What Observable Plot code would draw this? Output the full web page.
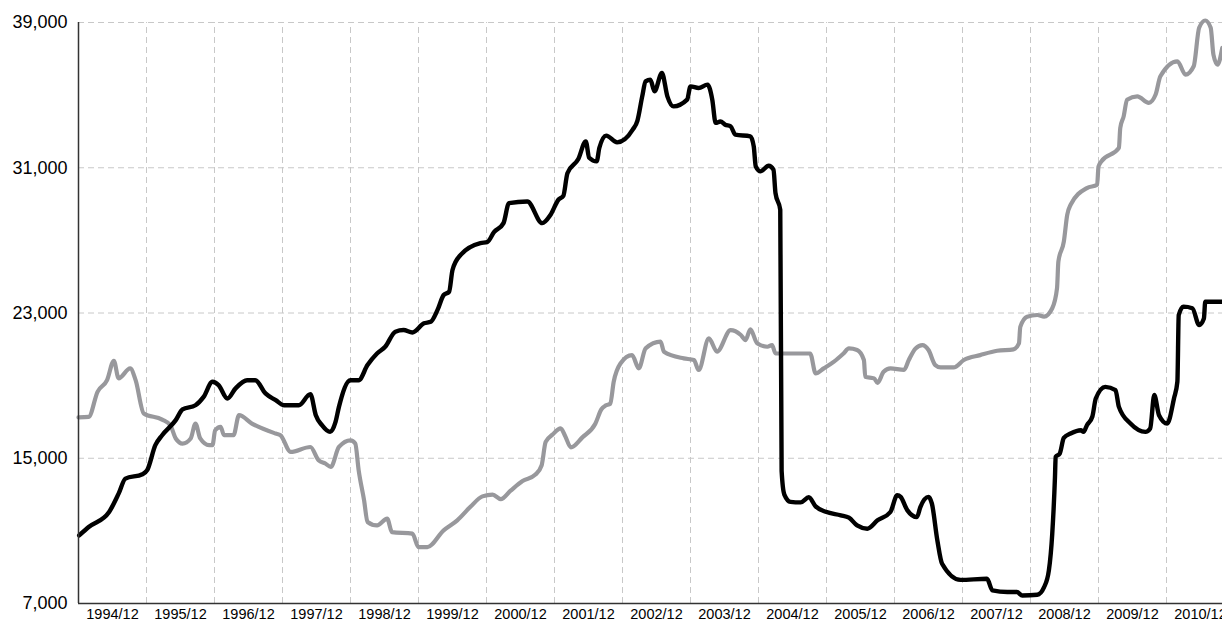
<!DOCTYPE html>
<html>
<head>
<meta charset="utf-8">
<script src="https://cdn.jsdelivr.net/npm/d3@7"></script>
<script src="https://cdn.jsdelivr.net/npm/@observablehq/plot@0.6"></script>
<style>
  html, body { margin: 0; padding: 0; background: #fff; }
  #chart { width: 1222px; height: 623px; overflow: hidden; }
</style>
</head>
<body>
<div id="chart"></div>
<script>
// Tick labels
const xTickLabels = ["1994/12","1995/12","1996/12","1997/12","1998/12","1999/12","2000/12","2001/12","2002/12","2003/12","2004/12","2005/12","2006/12","2007/12","2008/12","2009/12","2010/12"];
const yTicks = [7000, 15000, 23000, 31000, 39000];

// Series: [decimal year, value]
const blackSeries = [
  [1994.51,10750],[1994.65,11210],[1994.95,12040],[1995.09,13050],[1995.19,13880],[1995.44,14120],
  [1995.51,14340],[1995.63,15720],[1995.73,16270],[1995.93,17100],[1996.03,17690],[1996.22,17920],
  [1996.34,18380],[1996.47,19210],[1996.56,19030],[1996.69,18290],[1996.81,18850],[1996.98,19300],
  [1997.10,19300],[1997.25,18570],[1997.40,18200],[1997.52,17920],[1997.74,17920],[1997.91,18530],
  [1997.99,17370],[1998.08,16820],[1998.20,16450],[1998.28,17000],[1998.33,17830],[1998.50,19300],
  [1998.62,19300],[1998.75,20130],[1998.89,20770],[1999.01,21140],[1999.16,21970],[1999.28,22060],
  [1999.41,21930],[1999.58,22430],[1999.68,22520],[1999.78,23170],[1999.87,23990],[1999.95,24170],
  [2000.00,25370],[2000.12,26200],[2000.41,26850],[2000.51,26900],[2000.61,27450],[2000.75,27950],
  [2000.83,29050],[2001.10,29140],[2001.32,27950],[2001.44,28400],[2001.56,29250],[2001.63,29450],
  [2001.69,30700],[2001.85,31480],[2001.96,32450],[2002.01,31550],[2002.12,31350],[2002.16,32100],
  [2002.26,32770],[2002.42,32400],[2002.65,33100],[2002.72,33600],[2002.79,34930],[2002.84,35760],
  [2002.91,35850],[2002.97,35210],[2003.08,36220],[2003.16,34930],[2003.25,34380],[2003.45,34750],
  [2003.50,35480],[2003.62,35390],[2003.75,35580],[2003.82,34750],[2003.87,33470],[2003.94,33550],
  [2004.01,33370],[2004.09,33280],[2004.16,32820],[2004.38,32730],[2004.43,32180],[2004.46,31070],
  [2004.53,30800],[2004.65,31110],[2004.72,30890],[2004.75,29600],[2004.82,28680],[2004.84,14300],
  [2004.88,13000],[2004.97,12600],[2005.12,12570],[2005.24,12850],[2005.34,12350],[2005.49,12050],
  [2005.71,11860],[2005.83,11730],[2005.95,11300],[2006.10,11120],[2006.25,11580],[2006.44,12040],
  [2006.54,12960],[2006.59,12870],[2006.69,12130],[2006.83,11760],[2006.88,12310],[2007.00,12870],
  [2007.05,12500],[2007.13,10480],[2007.20,9190],[2007.47,8300],[2007.86,8360],[2007.94,7720],
  [2008.16,7630],[2008.30,7630],[2008.38,7440],[2008.60,7480],[2008.70,7900],[2008.77,8820],
  [2008.82,10850],[2008.86,13970],[2008.87,15070],[2008.93,15260],[2008.99,16120],[2009.09,16360],
  [2009.24,16540],[2009.28,16450],[2009.33,16820],[2009.41,17300],[2009.46,18290],[2009.60,18930],
  [2009.75,18750],[2009.80,17830],[2009.97,16910],[2010.19,16450],[2010.26,16640],[2010.32,18480],
  [2010.39,17370],[2010.51,16910],[2010.61,18290],[2010.66,19210],[2010.68,22890],[2010.75,23350],
  [2010.88,23260],[2010.98,22340],[2011.05,22700],[2011.07,23620],[2011.32,23620]
];

const graySeries = [
  [1994.50,17250],[1994.65,17280],[1994.78,18660],[1994.92,19300],[1995.02,20370],[1995.09,19400],
  [1995.26,19950],[1995.34,19300],[1995.46,17470],[1995.73,17130],[1995.85,16820],[1995.93,16090],
  [1996.03,15810],[1996.15,16090],[1996.22,16910],[1996.29,16090],[1996.42,15720],[1996.47,15720],
  [1996.51,16540],[1996.59,16730],[1996.64,16270],[1996.78,16270],[1996.86,17370],[1997.05,16910],
  [1997.40,16360],[1997.47,16270],[1997.62,15350],[1997.91,15620],[1998.03,14890],[1998.13,14710],
  [1998.21,14520],[1998.33,15620],[1998.50,15990],[1998.57,15810],[1998.62,14340],[1998.70,12680],
  [1998.75,11490],[1998.89,11300],[1999.04,11670],[1999.11,10930],[1999.41,10850],[1999.50,10110],
  [1999.63,10110],[1999.87,11030],[2000.07,11580],[2000.26,12310],[2000.44,12900],[2000.59,13000],
  [2000.71,12750],[2000.85,13200],[2001.03,13750],[2001.22,14100],[2001.31,14600],[2001.37,15900],
  [2001.47,16300],[2001.59,16650],[2001.66,16200],[2001.74,15600],[2001.91,16150],[2002.10,16900],
  [2002.19,17700],[2002.25,17900],[2002.32,18000],[2002.37,19200],[2002.47,20220],[2002.64,20680],
  [2002.74,19950],[2002.84,21050],[2003.06,21420],[2003.11,20870],[2003.40,20500],[2003.55,20410],
  [2003.62,19860],[2003.77,21600],[2003.89,20870],[2004.09,22060],[2004.24,21790],[2004.31,21510],
  [2004.38,22100],[2004.48,21330],[2004.63,21140],[2004.70,21230],[2004.75,20770],[2004.97,20770],
  [2005.26,20770],[2005.34,19670],[2005.46,19950],[2005.61,20320],[2005.75,20770],[2005.83,21050],
  [2005.95,20960],[2006.05,20410],[2006.07,19490],[2006.20,19400],[2006.25,19150],[2006.34,19760],
  [2006.44,19950],[2006.64,19870],[2006.71,20410],[2006.81,21050],[2006.91,21230],[2007.00,20960],
  [2007.10,20130],[2007.18,20000],[2007.37,20000],[2007.52,20410],[2007.76,20680],[2008.01,20920],
  [2008.25,21000],[2008.33,21330],[2008.35,22240],[2008.45,22800],[2008.60,22890],[2008.70,22800],
  [2008.82,23260],[2008.89,24360],[2008.91,25830],[2008.99,26930],[2009.04,28410],[2009.09,28960],
  [2009.33,29880],[2009.48,30060],[2009.50,31070],[2009.54,31340],[2009.80,32090],[2009.82,33190],
  [2009.87,33830],[2009.92,34750],[2010.07,34930],[2010.24,34570],[2010.34,35030],[2010.41,36040],
  [2010.66,36860],[2010.78,36130],[2010.90,36590],[2010.98,38710],[2011.07,39110],[2011.15,38710],
  [2011.19,37230],[2011.25,36680],[2011.32,37600]
];

const xStart = 1994.5;
const xEnd = 1994.5 + 1144 / 68;
const gridX = xTickLabels.slice(1).map((_, i) => 1995.5 + i);
const labelX = xTickLabels.map((label, i) => ({label, x: 1995.0 + i}));

const fontFamily = "'Liberation Sans', Arial, Helvetica, sans-serif";

const chart = Plot.plot({
  width: 1222,
  height: 623,
  marginLeft: 78,
  marginRight: 0,
  marginTop: 22,
  marginBottom: 20,
  style: {fontFamily, background: "#fff"},
  x: {type: "linear", domain: [xStart, xEnd], axis: null},
  y: {type: "linear", domain: [7000, 39000], axis: null},
  marks: [
    Plot.ruleY(yTicks, {y: d => d, stroke: "#c8c8c8", strokeWidth: 1, strokeDasharray: "6,4"}),
    Plot.ruleX(gridX, {x: d => d, y1: 7000, y2: 39000, stroke: "#c8c8c8", strokeWidth: 1, strokeDasharray: "6,4"}),
    Plot.line(graySeries, {x: d => d[0], y: d => d[1], stroke: "#98989c", strokeWidth: 4.2, curve: "monotone-x", strokeLinejoin: "round", strokeLinecap: "round"}),
    Plot.line(blackSeries, {x: d => d[0], y: d => d[1], stroke: "#000", strokeWidth: 4.4, curve: "monotone-x", strokeLinejoin: "round", strokeLinecap: "round"}),
    Plot.ruleX([xStart], {x: d => d, y1: 7000, y2: 39000, stroke: "#333", strokeWidth: 1.5}),
    Plot.ruleY([7000], {y: d => d, stroke: "#333", strokeWidth: 1.5}),
    Plot.text(yTicks, {x: xStart, y: d => d, text: d => d3.format(",")(d), textAnchor: "end", dx: -11, fontSize: 18, fill: "#000"}),
    Plot.text(labelX, {x: "x", y: 7000, text: "label", textAnchor: "middle", lineAnchor: "top", dy: 5, fontSize: 14.5, fill: "#000"})
  ]
});
document.getElementById("chart").appendChild(chart);
</script>
</body>
</html>
